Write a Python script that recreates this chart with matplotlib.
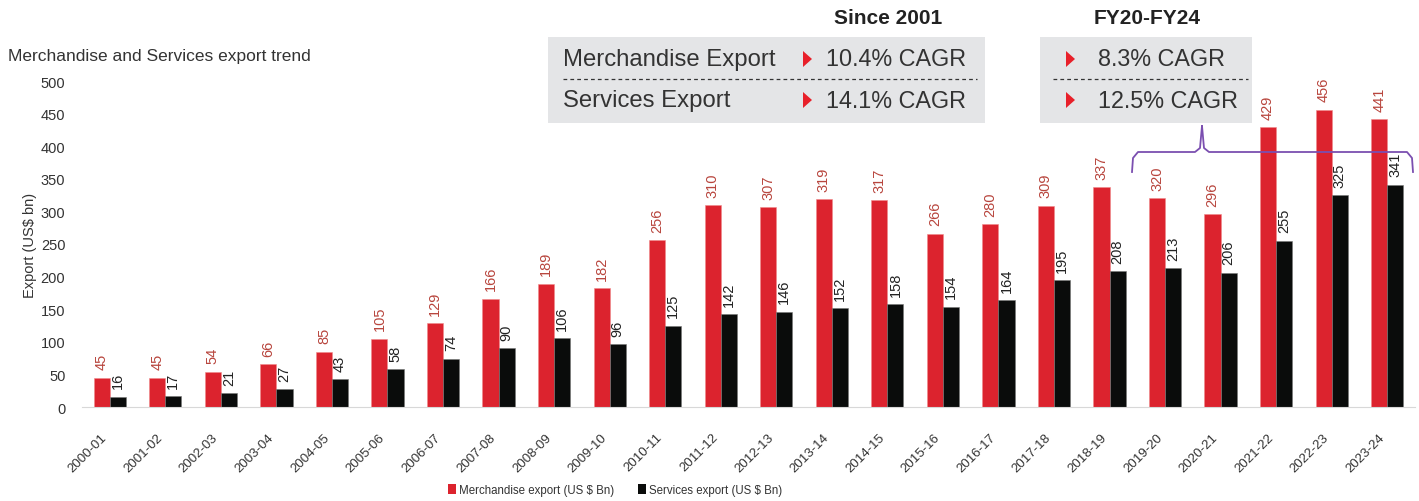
import numpy as np
import matplotlib
matplotlib.use("Agg")
import matplotlib.pyplot as plt
from matplotlib.lines import Line2D
from matplotlib.patches import Rectangle, Polygon, Patch
from matplotlib.transforms import ScaledTranslation

plt.rcParams['font.family'] = ['Liberation Sans', 'DejaVu Sans']

# data
years = ["2000-01", "2001-02", "2002-03", "2003-04", "2004-05", "2005-06", "2006-07",
         "2007-08", "2008-09", "2009-10", "2010-11", "2011-12", "2012-13", "2013-14",
         "2014-15", "2015-16", "2016-17", "2017-18", "2018-19", "2019-20", "2020-21",
         "2021-22", "2022-23", "2023-24"]
merchandise = [45, 45, 54, 66, 85, 105, 129, 166, 189, 182, 256, 310, 307, 319,
               317, 266, 280, 309, 337, 320, 296, 429, 456, 441]
services = [16, 17, 21, 27, 43, 58, 74, 90, 106, 96, 125, 142, 146, 152,
            158, 154, 164, 195, 208, 213, 206, 255, 325, 341]
since_rows = ["Merchandise Export", "Services Export"]
since_cagr = ["10.4% CAGR", "14.1% CAGR"]
recent_cagr = ["8.3% CAGR", "12.5% CAGR"]

RED = "#dc232e"
BLACK = "#0a0c0b"
W, H = 1419, 502

def fx(px):
  return px / W
def fy(py):
  return 1 - py / H

fig = plt.figure(figsize=(W / 100, H / 100), dpi=100)
ax = fig.add_axes([fx(82), fy(408), 1333 / W, 326 / H])

x = np.arange(len(years))
bw = 0.29
ax.bar(x - bw / 2, merchandise, bw, color=RED, edgecolor="#f08a8a", linewidth=0.4)
ax.bar(x + bw / 2, services, bw, color=BLACK, edgecolor="#777777", linewidth=0.4)

for i in range(len(years)):
  ax.annotate(str(merchandise[i]), (x[i] - bw / 2, merchandise[i]), xytext=(0, 6),
              textcoords="offset points", rotation=90, ha="center", va="bottom",
              fontsize=10.5, color="#b8453d", annotation_clip=False)
  ax.annotate(str(services[i]), (x[i] + bw / 2, services[i]), xytext=(0, 6),
              textcoords="offset points", rotation=90, ha="center", va="bottom",
              fontsize=10.5, color="#222222", annotation_clip=False)

ax.set_xlim(-0.5, len(years) - 0.5)
ax.set_ylim(0, 500)
ax.set_yticks(np.arange(0, 501, 50))
ax.set_xticks(x)
ax.set_xticklabels(years, rotation=45, ha="right", rotation_mode="anchor")
ax.tick_params(axis="y", length=0, pad=12, labelsize=10.5, labelcolor="#333333")
ax.tick_params(axis="x", length=0, pad=10, labelsize=9.5, labelcolor="#333333")
shift = ScaledTranslation(-0.09, -0.10, fig.dpi_scale_trans)
for lab in ax.get_xticklabels():
  lab.set_transform(lab.get_transform() + shift)
for s in ["top", "right", "left"]:
  ax.spines[s].set_visible(False)
ax.spines["bottom"].set_color("#d8d8d8")
ax.set_ylabel("Export (US$ bn)", fontsize=10.5, color="#333333", labelpad=3)

fig.text(fx(8), fy(57), "Merchandise and Services export trend", fontsize=12.5,
         color="#333333", va="center", ha="left")

# CAGR boxes
grey = "#e4e5e7"
fig.add_artist(Rectangle((fx(548), fy(124)), fx(985) - fx(548), fy(38) - fy(124),
                         transform=fig.transFigure, facecolor=grey, edgecolor="none"))
fig.add_artist(Rectangle((fx(1040), fy(124)), fx(1252) - fx(1040), fy(38) - fy(124),
                         transform=fig.transFigure, facecolor=grey, edgecolor="none"))
fig.add_artist(Line2D([fx(563), fx(977)], [fy(80), fy(80)], transform=fig.transFigure,
                      color="#333333", linestyle=(0, (3, 2.5)), linewidth=0.9))
fig.add_artist(Line2D([fx(1053), fx(1248)], [fy(80), fy(80)], transform=fig.transFigure,
                      color="#333333", linestyle=(0, (3, 2.5)), linewidth=0.9))

fig.text(fx(888), fy(18), "Since 2001", fontsize=15, fontweight="bold", ha="center",
         va="center", color="#222222")
fig.text(fx(1147), fy(18), "FY20-FY24", fontsize=15, fontweight="bold", ha="center",
         va="center", color="#222222")

row_y = [60, 101]
for k in range(2):
  yy = row_y[k]
  fig.text(fx(563), fy(yy), since_rows[k], fontsize=17.2, color="#333333", va="center")
  fig.text(fx(826), fy(yy), since_cagr[k], fontsize=16.8, color="#333333", va="center")
  fig.text(fx(1098), fy(yy), recent_cagr[k], fontsize=16.8, color="#333333", va="center")
  for tx in [803, 1066]:
    fig.add_artist(Polygon([(fx(tx), fy(yy - 8)), (fx(tx), fy(yy + 8)), (fx(tx + 9), fy(yy))],
                           closed=True, transform=fig.transFigure, facecolor="#e8202a",
                           edgecolor="none"))

# curly bracket over FY20-FY24
PURPLE = "#7b4fb0"
left_pts = [(1132, 173), (1133, 159), (1138, 153), (1195, 153), (1200, 149), (1202, 127)]
right_pts = [(1202, 127), (1204, 149), (1209, 153), (1407, 153), (1412, 159), (1413, 173)]
for pts in [left_pts, right_pts]:
  fig.add_artist(Line2D([fx(p[0]) for p in pts], [fy(p[1]) for p in pts],
                        transform=fig.transFigure, color=PURPLE, linewidth=1.3))

handles = [Patch(facecolor=RED, edgecolor="none", label="Merchandise export (US $ Bn)"),
           Patch(facecolor=BLACK, edgecolor="none", label="Services export (US $ Bn)")]
fig.legend(handles=handles, loc="center", bbox_to_anchor=(fx(615), fy(491)), ncol=2,
           frameon=False, fontsize=8.3, handlelength=0.7, handleheight=0.9,
           handletextpad=0.3, columnspacing=2.0, labelcolor="#333333")

fig.savefig("out.png", dpi=100)
